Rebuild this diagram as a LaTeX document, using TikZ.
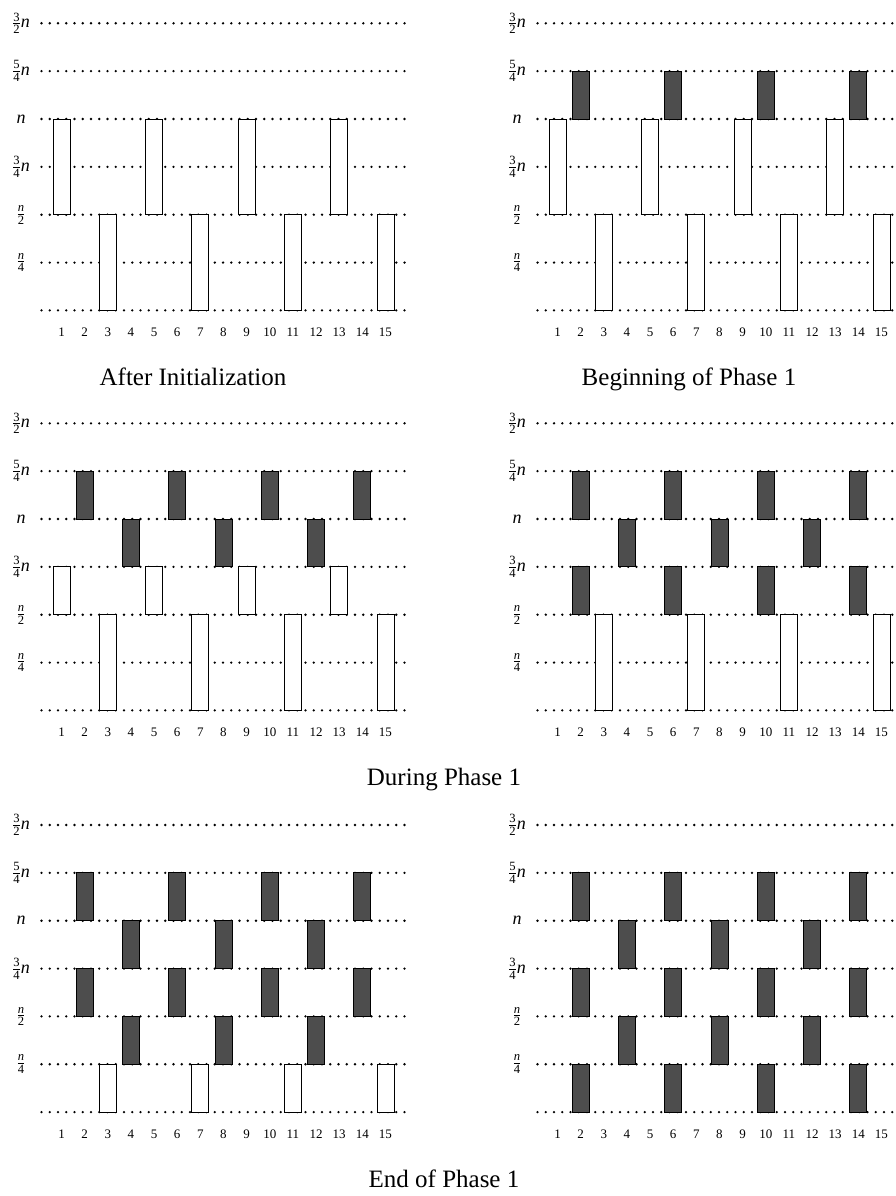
\documentclass[tikz,border=0pt]{standalone}
\usepackage{fontspec}
\setmainfont{Liberation Serif}
\definecolor{dk}{RGB}{77,77,77}
\tikzset{
  dotline/.style={line width=2.6pt, line cap=round, dash pattern=on 0pt off 8.25pt},
  wbox/.style={draw=black, line width=0.9pt, fill=white},
  dbox/.style={draw=black, line width=0.9pt, fill=dk},
  lvl/.style={font=\fontsize{18}{18}\selectfont, inner sep=0pt},
  num/.style={font=\fontsize{13}{13}\selectfont, inner sep=0pt},
  capt/.style={font=\fontsize{25}{25}\selectfont, inner sep=0pt, anchor=base},
}
\newcommand{\lvltext}[1]{%
  \ifcase#1\or
  $\frac{\mathit{n}}{\mathrm{4}}$\or
  $\frac{\mathit{n}}{\mathrm{2}}$\or
  $\frac{\mathrm{3}}{\mathrm{4}}\mathit{n}$\or
  \textit{n}\or
  $\frac{\mathrm{5}}{\mathrm{4}}\mathit{n}$\or
  $\frac{\mathrm{3}}{\mathrm{2}}\mathit{n}$\fi}
% #1 = x offset, #2 = top y, #3 = panel name, #4 = box list k/lo/hi/style
\newcommand{\drawpanel}[4]{%
  \foreach \q in {0,...,6} {
    \draw[dotline] ({#1+41.5},{#2+(6-\q)*47.85}) -- ({#1+405},{#2+(6-\q)*47.85});
  }
  \foreach \q in {1,...,6} {
    \node[lvl] (lab-#3-\q) at ({#1+21},{#2+(6-\q)*47.85}) {\lvltext{\q}};
  }
  \foreach \k/\lo/\hi/\s in {#4} {
    \draw[\s] ({#1+61.5+(\k-1)*23.14-8.5},{#2+(6-\lo)*47.85}) rectangle ({#1+61.5+(\k-1)*23.14+8.5},{#2+(6-\hi)*47.85});
  }
  \foreach \k in {1,...,15} {
    \node[num] (num-#3-\k) at ({#1+61.5+(\k-1)*23.14},{#2+309}) {\k};
  }
}
\begin{document}
\begin{tikzpicture}[x=1pt,y=-1pt]
\useasboundingbox (0,0) rectangle (896,1196);
\clip (0,0) rectangle (896,1196);
\fill[white] (0,0) rectangle (896,1196);

% After Initialization
\drawpanel{0}{23.3}{A}{1/2/4/wbox,5/2/4/wbox,9/2/4/wbox,13/2/4/wbox,
  3/0/2/wbox,7/0/2/wbox,11/0/2/wbox,15/0/2/wbox}
% Beginning of Phase 1
\drawpanel{496}{23.3}{B}{1/2/4/wbox,5/2/4/wbox,9/2/4/wbox,13/2/4/wbox,
  3/0/2/wbox,7/0/2/wbox,11/0/2/wbox,15/0/2/wbox,
  2/4/5/dbox,6/4/5/dbox,10/4/5/dbox,14/4/5/dbox}
% During Phase 1 (left)
\drawpanel{0}{423.3}{C}{2/4/5/dbox,6/4/5/dbox,10/4/5/dbox,14/4/5/dbox,
  4/3/4/dbox,8/3/4/dbox,12/3/4/dbox,
  1/2/3/wbox,5/2/3/wbox,9/2/3/wbox,13/2/3/wbox,
  3/0/2/wbox,7/0/2/wbox,11/0/2/wbox,15/0/2/wbox}
% During Phase 1 (right)
\drawpanel{496}{423.3}{D}{2/4/5/dbox,6/4/5/dbox,10/4/5/dbox,14/4/5/dbox,
  4/3/4/dbox,8/3/4/dbox,12/3/4/dbox,
  2/2/3/dbox,6/2/3/dbox,10/2/3/dbox,14/2/3/dbox,
  3/0/2/wbox,7/0/2/wbox,11/0/2/wbox,15/0/2/wbox}
% End of Phase 1 (left)
\drawpanel{0}{825}{E}{2/4/5/dbox,6/4/5/dbox,10/4/5/dbox,14/4/5/dbox,
  4/3/4/dbox,8/3/4/dbox,12/3/4/dbox,
  2/2/3/dbox,6/2/3/dbox,10/2/3/dbox,14/2/3/dbox,
  4/1/2/dbox,8/1/2/dbox,12/1/2/dbox,
  3/0/1/wbox,7/0/1/wbox,11/0/1/wbox,15/0/1/wbox}
% End of Phase 1 (right)
\drawpanel{496}{825}{F}{2/4/5/dbox,6/4/5/dbox,10/4/5/dbox,14/4/5/dbox,
  4/3/4/dbox,8/3/4/dbox,12/3/4/dbox,
  2/2/3/dbox,6/2/3/dbox,10/2/3/dbox,14/2/3/dbox,
  4/1/2/dbox,8/1/2/dbox,12/1/2/dbox,
  2/0/1/dbox,6/0/1/dbox,10/0/1/dbox,14/0/1/dbox}

\node[capt] (capA) at (193,385) {After Initialization};
\node[capt] (capB) at (689,385) {Beginning of Phase 1};
\node[capt] (capC) at (444,785) {During Phase 1};
\node[capt] (capE) at (444,1187) {End of Phase 1};
\end{tikzpicture}
\end{document}
